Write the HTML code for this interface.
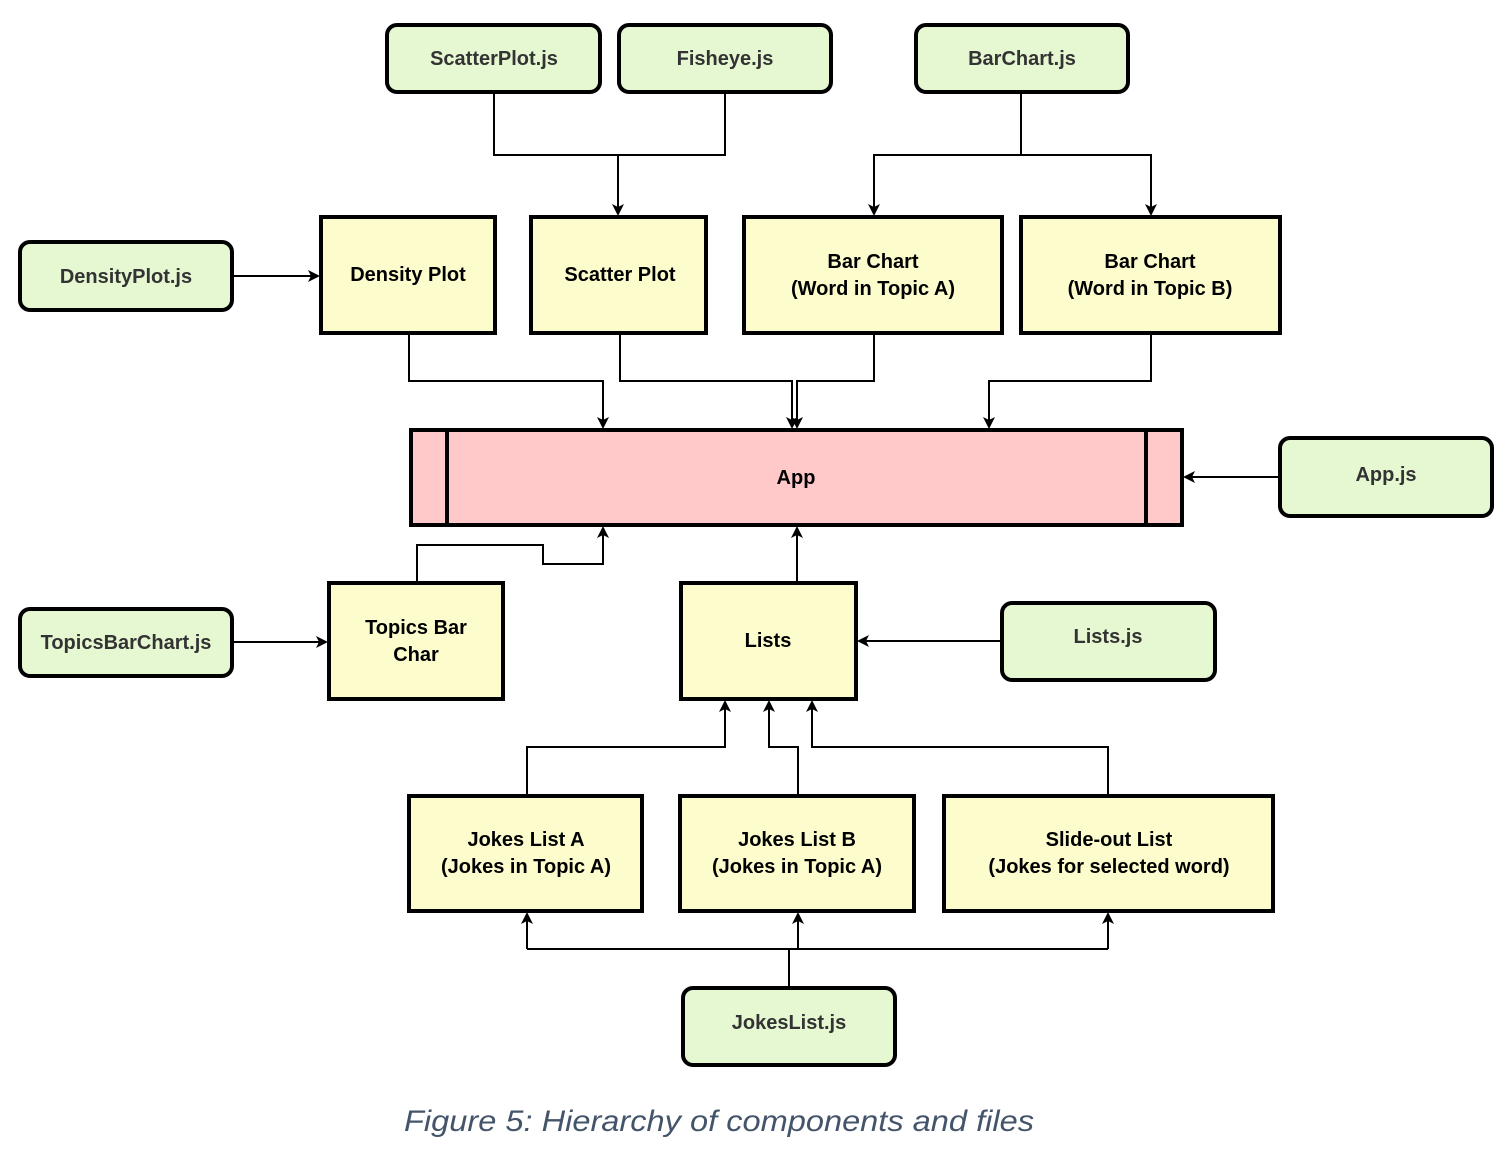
<!DOCTYPE html>
<html><head><style>
html,body{margin:0;padding:0;background:#fff;}
svg{display:block;}
text{font-family:"Liberation Sans",sans-serif;font-weight:bold;font-size:20px;text-anchor:middle;}
.g{fill:#e6f8d2;stroke:#000;stroke-width:4;}
.y{fill:#fcfccc;stroke:#000;stroke-width:4;}
.l{fill:none;stroke:#000;stroke-width:2;}
.js{fill:#333;}
</style></head><body>
<svg width="1506" height="1162" viewBox="0 0 1506 1162">
<defs><marker id="a" markerWidth="12" markerHeight="12" refX="10" refY="6" orient="auto" markerUnits="userSpaceOnUse"><path d="M0,0 L12,6 L0,12 L3,6 Z" fill="#000"/></marker></defs>
<rect class="g" x="387" y="25" width="213" height="67" rx="10"/>
<rect class="g" x="619" y="25" width="212" height="67" rx="10"/>
<rect class="g" x="916" y="25" width="212" height="67" rx="10"/>
<rect class="g" x="20" y="242" width="212" height="68" rx="10"/>
<rect class="g" x="1280" y="438" width="212" height="78" rx="10"/>
<rect class="g" x="20" y="609" width="212" height="67" rx="10"/>
<rect class="g" x="1002" y="603" width="213" height="77" rx="10"/>
<rect class="g" x="683" y="988" width="212" height="77" rx="10"/>
<text class="js" x="494" y="65">ScatterPlot.js</text>
<text class="js" x="725" y="65">Fisheye.js</text>
<text class="js" x="1022" y="65">BarChart.js</text>
<text class="js" x="126" y="283">DensityPlot.js</text>
<text class="js" x="1386" y="481">App.js</text>
<text class="js" x="126" y="649">TopicsBarChart.js</text>
<text class="js" x="1108" y="643">Lists.js</text>
<text class="js" x="789" y="1029">JokesList.js</text>
<rect class="y" x="321" y="217" width="174" height="116"/>
<rect class="y" x="531" y="217" width="175" height="116"/>
<rect class="y" x="744" y="217" width="258" height="116"/>
<rect class="y" x="1021" y="217" width="259" height="116"/>
<rect class="y" x="329" y="583" width="174" height="116"/>
<rect class="y" x="681" y="583" width="175" height="116"/>
<rect class="y" x="409" y="796" width="233" height="115"/>
<rect class="y" x="680" y="796" width="234" height="115"/>
<rect class="y" x="944" y="796" width="329" height="115"/>
<rect x="411" y="430" width="771" height="95" fill="#ffc9c9" stroke="#000" stroke-width="4"/>
<line x1="447" y1="430" x2="447" y2="525" stroke="#000" stroke-width="4"/>
<line x1="1146" y1="430" x2="1146" y2="525" stroke="#000" stroke-width="4"/>
<text x="408" y="281">Density Plot</text>
<text x="620" y="281">Scatter Plot</text>
<text x="873" y="268">Bar Chart</text><text x="873" y="295">(Word in Topic A)</text>
<text x="1150" y="268">Bar Chart</text><text x="1150" y="295">(Word in Topic B)</text>
<text x="796" y="484">App</text>
<text x="416" y="634">Topics Bar</text><text x="416" y="661">Char</text>
<text x="768" y="647">Lists</text>
<text x="526" y="846">Jokes List A</text><text x="526" y="873">(Jokes in Topic A)</text>
<text x="797" y="846">Jokes List B</text><text x="797" y="873">(Jokes in Topic A)</text>
<text x="1109" y="846">Slide-out List</text><text x="1109" y="873">(Jokes for selected word)</text>
<path class="l" d="M494,92 V155 H725 V92"/>
<path class="l" d="M618,155 V214" stroke-width="3" marker-end="url(#a)"/>
<path class="l" d="M1021,92 V155 H874 V214" marker-end="url(#a)"/>
<path class="l" d="M1021,155 H1151 V214" marker-end="url(#a)"/>
<path class="l" d="M232,276 H318" marker-end="url(#a)"/>
<path class="l" d="M409,333 V381 H603 V427" marker-end="url(#a)"/>
<path class="l" d="M620,333 V381 H792 V427" marker-end="url(#a)"/>
<path class="l" d="M874,333 V381 H797 V427" marker-end="url(#a)"/>
<path class="l" d="M1151,333 V381 H989 V427" marker-end="url(#a)"/>
<path class="l" d="M1280,477 H1185" marker-end="url(#a)"/>
<path class="l" d="M417,583 V545 H543 V564 H603 V528" marker-end="url(#a)"/>
<path class="l" d="M232,642 H326" marker-end="url(#a)"/>
<path class="l" d="M797,583 V528" marker-end="url(#a)"/>
<path class="l" d="M1002,641 H859" marker-end="url(#a)"/>
<path class="l" d="M527,796 V747 H725 V702" marker-end="url(#a)"/>
<path class="l" d="M798,796 V747 H769 V702" marker-end="url(#a)"/>
<path class="l" d="M1108,796 V747 H812 V702" marker-end="url(#a)"/>
<path class="l" d="M789,988 V949"/>
<path class="l" d="M527,949 H1108"/>
<path class="l" d="M527,949 V914" marker-end="url(#a)"/>
<path class="l" d="M798,949 V914" marker-end="url(#a)"/>
<path class="l" d="M1108,949 V914" marker-end="url(#a)"/>
<text x="719" y="1131" style="font-weight:normal;font-style:italic;font-size:30px;fill:#44546a" textLength="630" lengthAdjust="spacingAndGlyphs">Figure 5: Hierarchy of components and files</text>
</svg>
</body></html>
